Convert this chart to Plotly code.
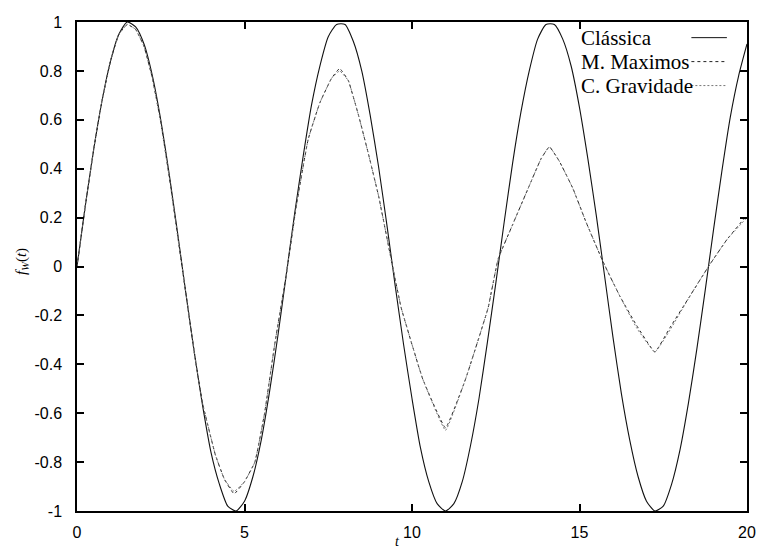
import plotly.graph_objects as go

# ---- data ----
t_classica = [0, 0.25, 0.5, 0.75, 1.0, 1.25, 1.5, 1.75, 2.0, 2.25, 2.5, 2.75, 3.0, 3.25, 3.5, 3.75,
              4.0, 4.25, 4.5, 4.75, 5.0, 5.25, 5.5, 5.75, 6.0, 6.25, 6.5, 6.75, 7.0, 7.25, 7.5, 7.75,
              8.0, 8.25, 8.5, 8.75, 9.0, 9.25, 9.5, 9.75, 10.0, 10.25, 10.5, 10.75, 11.0, 11.25, 11.5,
              11.75, 12.0, 12.25, 12.5, 12.75, 13.0, 13.25, 13.5, 13.75, 14.0, 14.25, 14.5, 14.75,
              15.0, 15.25, 15.5, 15.75, 16.0, 16.25, 16.5, 16.75, 17.0, 17.25, 17.5, 17.75, 18.0,
              18.25, 18.5, 18.75, 19.0, 19.25, 19.5, 19.75, 20.0]
f_classica = [0.00, 0.25, 0.48, 0.68, 0.84, 0.95, 1.00, 0.98, 0.91, 0.78, 0.60, 0.38, 0.14, -0.11,
              -0.35, -0.57, -0.76, -0.89, -0.98, -1.00, -0.96, -0.86, -0.71, -0.51, -0.28, -0.03,
              0.22, 0.45, 0.66, 0.82, 0.94, 0.99, 0.99, 0.92, 0.80, 0.62, 0.41, 0.17, -0.08, -0.32,
              -0.54, -0.74, -0.88, -0.97, -1.00, -0.97, -0.88, -0.73, -0.54, -0.31, -0.07, 0.18,
              0.42, 0.63, 0.80, 0.93, 0.99, 0.99, 0.93, 0.82, 0.65, 0.44, 0.21, -0.04, -0.29, -0.52,
              -0.71, -0.86, -0.96, -1.00, -0.98, -0.89, -0.75, -0.56, -0.34, -0.10, 0.15, 0.39,
              0.61, 0.78, 0.91]

t_maximos = [0, 0.25, 0.5, 0.75, 1.0, 1.25, 1.5, 1.75, 2.0, 2.25, 2.5, 2.75, 3.0, 3.25, 3.5, 3.75,
             4.13, 4.4, 4.69, 5.0, 5.31, 5.6, 5.9, 6.25, 6.55, 6.9, 7.25, 7.6, 7.84, 8.1, 8.4,
             8.7, 9.0, 9.42, 9.68, 10.32, 11.0, 11.6, 12.27, 12.57, 13.0, 13.5, 13.85, 14.1, 14.4,
             14.8, 15.2, 15.7, 16.2, 16.7, 17.25, 17.7, 18.3, 18.85, 19.4, 20.0]
f_maximos = [0.00, 0.25, 0.48, 0.68, 0.84, 0.95, 0.99, 0.97, 0.90, 0.77, 0.59, 0.37, 0.13, -0.11,
             -0.35, -0.56, -0.77, -0.87, -0.93, -0.88, -0.80, -0.60, -0.32, -0.03, 0.25, 0.52,
             0.67, 0.77, 0.81, 0.76, 0.62, 0.46, 0.29, 0.00, -0.17, -0.46, -0.66, -0.46, -0.17,
             0.03, 0.17, 0.33, 0.44, 0.49, 0.43, 0.32, 0.18, 0.02, -0.12, -0.24, -0.35, -0.25,
             -0.12, 0.00, 0.11, 0.21]

t_gravidade = t_maximos
f_gravidade = [0.00, 0.25, 0.48, 0.68, 0.84, 0.95, 0.99, 0.97, 0.90, 0.77, 0.59, 0.37, 0.13, -0.11,
               -0.35, -0.56, -0.77, -0.87, -0.92, -0.88, -0.80, -0.60, -0.32, -0.03, 0.25, 0.52,
               0.67, 0.77, 0.80, 0.76, 0.62, 0.46, 0.29, 0.00, -0.17, -0.46, -0.67, -0.46, -0.17,
               0.03, 0.17, 0.33, 0.44, 0.49, 0.43, 0.32, 0.18, 0.02, -0.12, -0.25, -0.35, -0.26,
               -0.12, 0.00, 0.11, 0.20]

x_ticks = [0, 5, 10, 15, 20]
x_ticklabels = ["0", "5", "10", "15", "20"]
y_ticks = [1, 0.8, 0.6, 0.4, 0.2, 0, -0.2, -0.4, -0.6, -0.8, -1]
y_ticklabels = ["1", "0.8", "0.6", "0.4", "0.2", "0", "-0.2", "-0.4", "-0.6", "-0.8", "-1"]

series_names = ["Clássica", "M. Maximos", "C. Gravidade"]

fig = go.Figure()
fig.add_trace(go.Scatter(x=t_classica, y=f_classica, mode="lines", name=series_names[0],
                         line=dict(color="#111111", width=1.1, shape="spline", smoothing=0.6),
                         showlegend=False))
fig.add_trace(go.Scatter(x=t_maximos, y=f_maximos, mode="lines", name=series_names[1],
                         line=dict(color="#222222", width=1, dash="3px,3px",
                                   shape="spline", smoothing=0.3),
                         showlegend=False))
fig.add_trace(go.Scatter(x=t_gravidade, y=f_gravidade, mode="lines", name=series_names[2],
                         line=dict(color="#777777", width=1, dash="2px,2px",
                                   shape="spline", smoothing=0.3),
                         showlegend=False))

axis_common = dict(showline=True, linecolor="black", linewidth=1.5, mirror="ticks",
                   ticks="inside", ticklen=7, tickwidth=1.5, tickcolor="black",
                   showgrid=False, zeroline=False,
                   tickfont=dict(family="Liberation Sans", size=16, color="black"))

fig.update_xaxes(range=[0, 20], tickvals=x_ticks, ticktext=x_ticklabels,
                 ticklabelstandoff=6, **axis_common)
fig.update_yaxes(range=[-1, 1], tickvals=y_ticks, ticktext=y_ticklabels,
                 ticklabelstandoff=10, **axis_common)

# axis titles
fig.add_annotation(x=0.479, y=-0.062, xref="paper", yref="paper", text="<i>t</i>",
                   showarrow=False, xanchor="center", yanchor="middle",
                   font=dict(family="Liberation Serif", size=14, color="black"))
fig.add_annotation(x=-0.083, y=0.51, xref="paper", yref="paper",
                   text="<i>f</i><sub><i>W</i></sub>(<i>t</i>)", textangle=-90,
                   showarrow=False, xanchor="center", yanchor="middle",
                   font=dict(family="Liberation Serif", size=15, color="black"))

# key (text left, sample on the right, as in the reference)
key_rows = [0.968, 0.919, 0.870]
key_dash = ["solid", "3px,3px", "2px,2px"]
key_color = ["#111111", "#222222", "#777777"]
for name, yy, dsh, col in zip(series_names, key_rows, key_dash, key_color):
    fig.add_annotation(x=0.749, y=yy, xref="paper", yref="paper", text=name,
                       showarrow=False, xanchor="left", yanchor="middle",
                       font=dict(family="Liberation Serif", size=21, color="black"))
    fig.add_shape(type="line", xref="paper", yref="paper", x0=0.917, x1=0.970, y0=yy, y1=yy,
                  line=dict(color=col, width=1, dash=dsh))

fig.update_layout(width=768, height=553, margin=dict(l=77, r=13, t=22, b=37),
                  plot_bgcolor="white", paper_bgcolor="white")

fig.write_html("out.html")
